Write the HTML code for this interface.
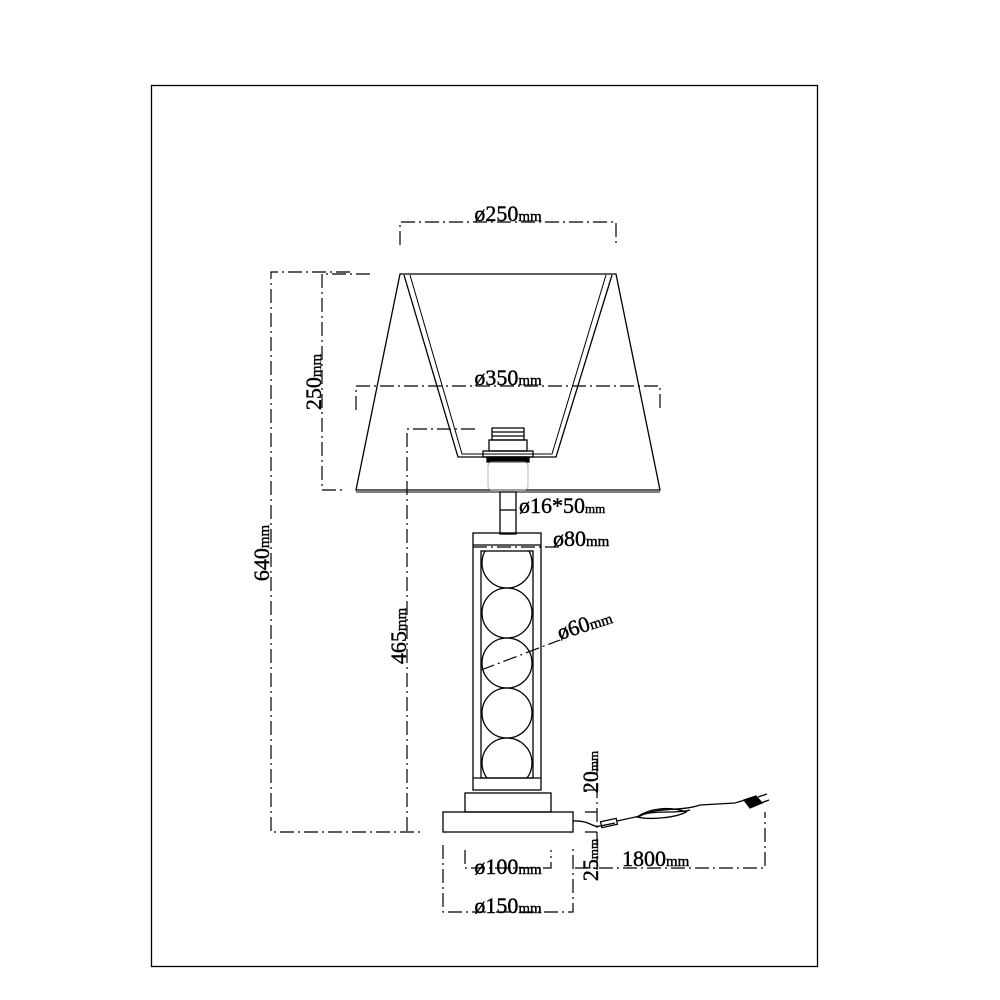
<!DOCTYPE html>
<html><head><style>
html,body{margin:0;padding:0;background:#fff;}
svg{display:block;}
text{font-family:"Liberation Serif",serif;font-size:22px;fill:#000;stroke:#000;stroke-width:0.4;}
</style></head><body>
<svg width="1000" height="1000" viewBox="0 0 1000 1000" xmlns="http://www.w3.org/2000/svg">
<rect x="151.5" y="85.5" width="666" height="881" fill="none" stroke="#000" stroke-width="1.3"/>
<g fill="none" stroke="#000" stroke-width="1.2" stroke-dasharray="14,4,2,4">
<path d="M400 245 V222 H616 V245"/>
<path d="M356 410 V386 H660 V410"/>
<path d="M370 274 H322 V490 H345"/>
<path d="M350 272 H271 V832 H420"/>
<path d="M475 429 H407 V832"/>
<path d="M465 850 V868 H551 V850"/>
<path d="M443 845 V912 H573 V845"/>
<path d="M575 868 H765 V812"/>
<path d="M585 790 H597 M585 812 H597 M585 832 H597"/>
<path d="M597 760 V870"/>
<path d="M473 547 H560"/>
<path d="M481 670 L560 640"/>
</g>
<g fill="none" stroke="#000" stroke-width="1.3">
<path d="M400 274 H616 L660 490 H356 Z"/>
<path d="M356 492 H660" stroke-width="1"/>
<path d="M404 275 L458 457 H556 L612 275"/>
<path d="M410 275 L462 454 H552 L606 275" stroke-width="1"/>
<rect x="483" y="451" width="50" height="6"/>
<rect x="489" y="440" width="38" height="11"/>
<path d="M492 428 H524 V440 H492 Z M492 432 H524 M492 436 H524"/>
<rect x="487" y="457" width="42" height="5" fill="#000"/>
<rect x="488" y="462" width="40" height="28" stroke="#aaa" stroke-width="0.8" rx="4"/>
<rect x="500" y="492" width="16" height="42"/>
<path d="M500 510 H516"/>
<rect x="473" y="533" width="68" height="257"/>
<path d="M473 545 H541 M473 778 H541"/>
<rect x="481" y="551" width="52" height="227"/>
<clipPath id="c"><rect x="481" y="551" width="52" height="227"/></clipPath>
<g clip-path="url(#c)">
<circle cx="507" cy="563" r="25"/>
<circle cx="507" cy="613" r="25"/>
<circle cx="507" cy="663" r="25"/>
<circle cx="507" cy="713" r="25"/>
<circle cx="507" cy="763" r="25"/>
</g>
<rect x="465" y="793" width="86" height="19"/>
<rect x="443" y="812" width="130" height="20"/>
<path d="M573 821 C590 820 592 828 600 826 L615 823"/>
<rect x="601" y="820" width="16" height="6" transform="rotate(-12 609 823)"/>
<path d="M617 821 L640 816 C660 806 680 812 700 805 L735 803 L745 800"/>
<path d="M637 817 C650 808 670 806 686 812 C675 818 650 820 637 817 Z"/>
<path d="M645 814 C660 810 675 814 690 810"/>
<path d="M744 800 L756 796 L762 803 L750 808 Z" fill="#000"/>
<path d="M758 797 L767 794 M761 803 L769 800"/>
</g>
<g>
<text x="508" y="221" text-anchor="middle">ø250<tspan font-size="15">mm</tspan></text>
<text x="508" y="385" text-anchor="middle">ø350<tspan font-size="15">mm</tspan></text>
<text x="519" y="513" font-size="16">ø16*50<tspan font-size="13">mm</tspan></text>
<text x="553" y="546">ø80<tspan font-size="15">mm</tspan></text>
<text x="560" y="640" transform="rotate(-18 560 640)">ø60<tspan font-size="15">mm</tspan></text>
<text x="508" y="874" text-anchor="middle">ø100<tspan font-size="15">mm</tspan></text>
<text x="508" y="913" text-anchor="middle">ø150<tspan font-size="15">mm</tspan></text>
<text x="622" y="866">1800<tspan font-size="15">mm</tspan></text>
<text transform="translate(321 382) rotate(-90)" text-anchor="middle">250<tspan font-size="15">mm</tspan></text>
<text transform="translate(269 553) rotate(-90)" text-anchor="middle">640<tspan font-size="15">mm</tspan></text>
<text transform="translate(406 636) rotate(-90)" text-anchor="middle">465<tspan font-size="15">mm</tspan></text>
<text transform="translate(598 772) rotate(-90)" text-anchor="middle" font-size="17">20<tspan font-size="13">mm</tspan></text>
<text transform="translate(598 860) rotate(-90)" text-anchor="middle" font-size="17">25<tspan font-size="13">mm</tspan></text>
</g>
</svg>
</body></html>
